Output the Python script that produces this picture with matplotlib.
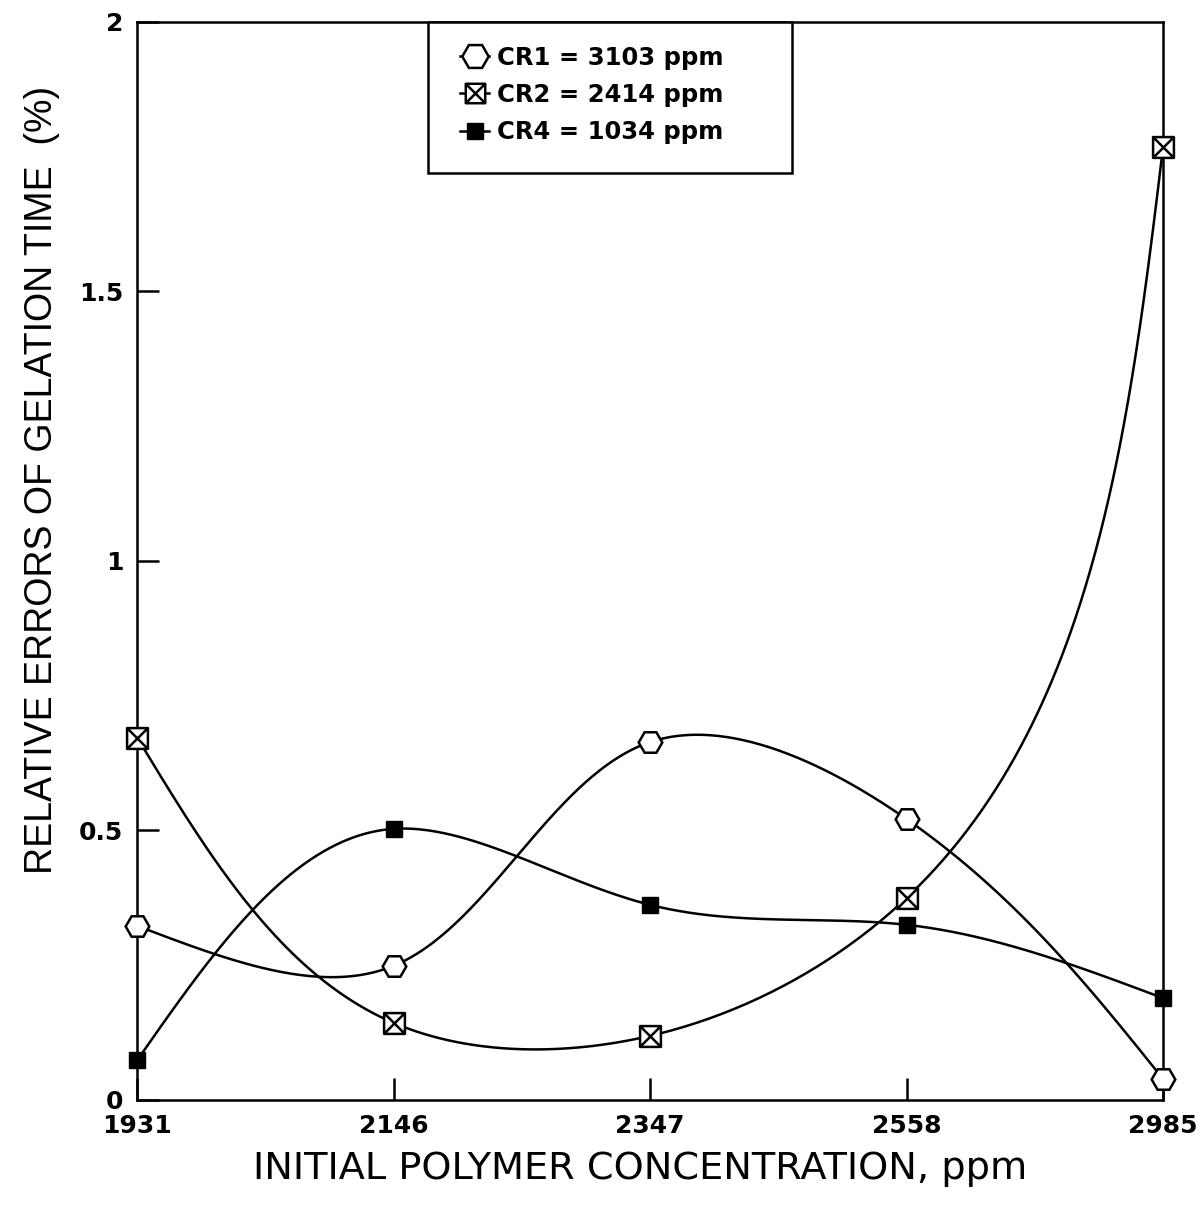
import numpy as np
import matplotlib
matplotlib.use('Agg')
import matplotlib.pyplot as plt
from matplotlib.path import Path
from matplotlib.lines import Line2D
from matplotlib.patches import Rectangle

# polymer concentration categories (equally spaced on the axis)
conc_labels = ['1931', '2146', '2347', '2558', '2985']

# relative errors of gelation time (%)
cr1_err = [0.323, 0.249, 0.664, 0.521, 0.039]
cr2_err = [0.672, 0.143, 0.119, 0.375, 1.768]
cr4_err = [0.074, 0.503, 0.362, 0.325, 0.189]

series_names = ['CR1 = 3103 ppm', 'CR2 = 2414 ppm', 'CR4 = 1034 ppm']


def natural_spline(t, y, ts):
    """Natural cubic spline of y(t), evaluated at ts."""
    t = np.asarray(t, float)
    y = np.asarray(y, float)
    k = len(t)
    h = np.diff(t)
    A = np.zeros((k, k))
    b = np.zeros(k)
    A[0, 0] = A[-1, -1] = 1
    for i in range(1, k - 1):
        A[i, i - 1] = h[i - 1]
        A[i, i] = 2 * (h[i - 1] + h[i])
        A[i, i + 1] = h[i]
        b[i] = 6 * ((y[i + 1] - y[i]) / h[i] - (y[i] - y[i - 1]) / h[i - 1])
    M = np.linalg.solve(A, b)
    idx = np.clip(np.searchsorted(t, ts) - 1, 0, k - 2)
    t0, t1 = t[idx], t[idx + 1]
    hh = t1 - t0
    return (M[idx] * (t1 - ts) ** 3 / (6 * hh) + M[idx + 1] * (ts - t0) ** 3 / (6 * hh)
            + (y[idx] / hh - M[idx] * hh / 6) * (t1 - ts)
            + (y[idx + 1] / hh - M[idx + 1] * hh / 6) * (ts - t0))


def smooth_curve(x, y, xscale=256.0, yscale=539.0, n=400):
    """Parametric spline (chord length in screen units) through the points."""
    x = np.asarray(x, float)
    y = np.asarray(y, float)
    d = np.hypot(np.diff(x) * xscale, np.diff(y) * yscale)
    t = np.concatenate([[0], np.cumsum(d)])
    ts = np.linspace(0, t[-1], n)
    return natural_spline(t, x, ts), natural_spline(t, y, ts)


# square with an X inside
boxx = Path([(-1, -1), (1, -1), (1, 1), (-1, 1), (-1, -1), (-1, -1), (1, 1), (-1, 1), (1, -1)],
            [Path.MOVETO, Path.LINETO, Path.LINETO, Path.LINETO, Path.CLOSEPOLY,
             Path.MOVETO, Path.LINETO, Path.MOVETO, Path.LINETO])

plt.rcParams['font.family'] = ['DejaVu Sans']

fig = plt.figure(figsize=(12.04, 12.16), dpi=100)
ax = fig.add_axes([0.114, 0.0954, 0.852, 0.8866])

xi = np.arange(len(conc_labels))
styles = [
    dict(marker='H', ms=17, mfc='white', mec='black', mew=1.8),
    dict(marker=boxx, ms=15, mfc='white', mec='black', mew=1.8),
    dict(marker='s', ms=11, mfc='black', mec='black', mew=1),
]
for vals, st in zip([cr1_err, cr2_err, cr4_err], styles):
    xs, ys = smooth_curve(xi, vals)
    ax.plot(xs, ys, color='black', lw=1.8, zorder=2)
    ax.plot(xi, vals, ls='none', zorder=3, clip_on=False, **st)

ax.set_xlim(0, len(conc_labels) - 1)
ax.set_ylim(0, 2)
ax.set_xticks(xi)
ax.set_xticklabels(conc_labels)
ax.set_yticks([0, 0.5, 1, 1.5, 2])
ax.set_yticklabels(['0', '0.5', '1', '1.5', '2'])
ax.tick_params(axis='y', direction='in', length=16, width=1.8, labelsize=18, pad=10)
ax.tick_params(axis='x', direction='in', length=16, width=1.8, labelsize=18, pad=10)
for lab in ax.get_xticklabels() + ax.get_yticklabels():
    lab.set_fontweight('bold')
for s in ax.spines.values():
    s.set_linewidth(1.8)

fig.text(0.532, 0.039, 'INITIAL POLYMER CONCENTRATION, ppm', fontsize=27.5,
         ha='center', va='center')
fig.text(0.035, 0.605, 'RELATIVE ERRORS OF GELATION TIME  (%)', fontsize=27,
         rotation=90, ha='center', va='center',
         family=['Liberation Sans Narrow', 'Liberation Sans', 'DejaVu Sans'])

# legend box
ax.add_patch(Rectangle((0.2836, 0.860), 0.3548, 0.140, transform=ax.transAxes,
                       facecolor='white', edgecolor='black', lw=1.8, zorder=4,
                       clip_on=False))
handles = [Line2D([], [], color='black', lw=1.8, **st) for st in styles]
handles[0].set_markersize(19)
handles[1].set_markersize(14)
handles[2].set_markersize(11)
leg = ax.legend(handles, series_names, loc='upper left', bbox_to_anchor=(0.3148, 0.978),
                frameon=False, handlelength=1.2, handletextpad=0.3, borderpad=0,
                labelspacing=0.55, borderaxespad=0,
                prop={'weight': 'bold', 'size': 17.5})
leg.set_zorder(5)

fig.savefig('out.png', dpi=100)
